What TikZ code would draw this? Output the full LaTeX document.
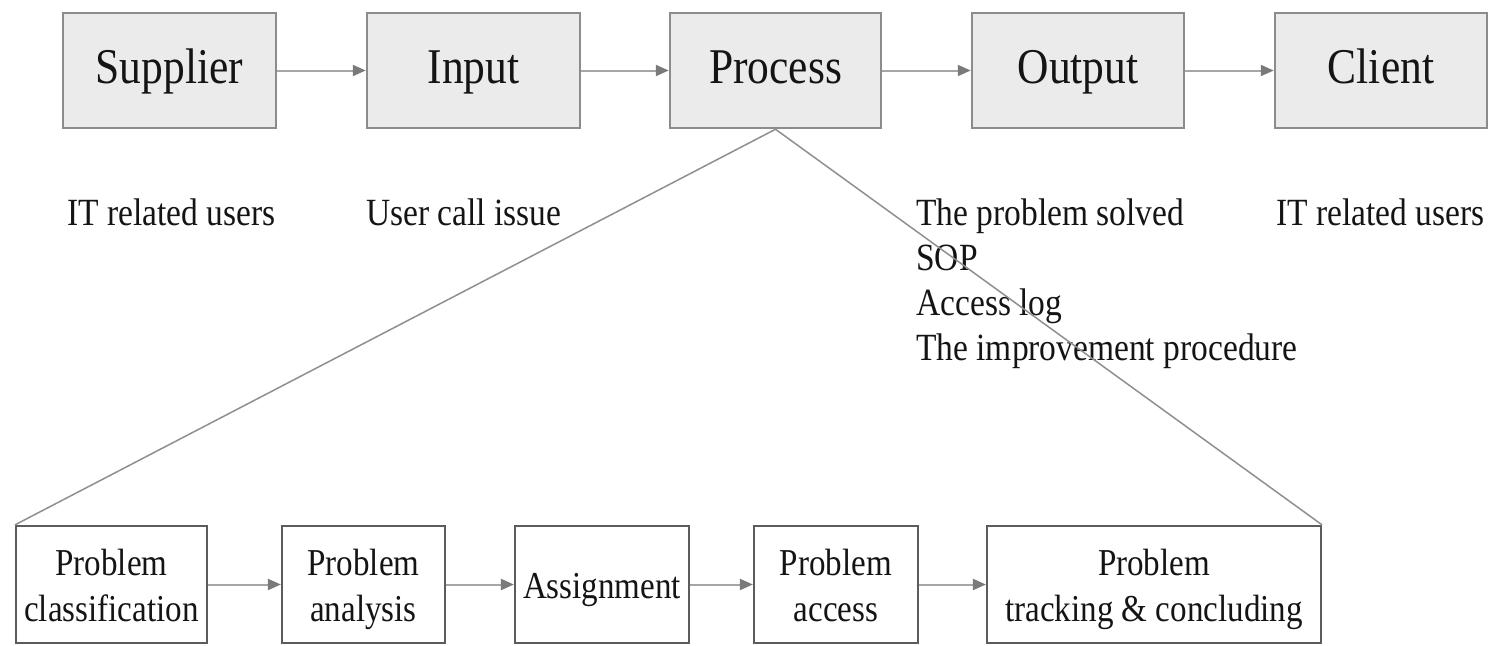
\documentclass[tikz,border=0pt]{standalone}
\usepackage{fontspec}
\setmainfont{Liberation Serif}[FakeStretch=0.87]
\usetikzlibrary{arrows.meta}
\definecolor{boxfill}{HTML}{EBEBEB}
\definecolor{boxline}{HTML}{8C8C8C}
\definecolor{subline}{HTML}{5C5C5C}
\definecolor{arrowc}{HTML}{A6A6A6}
\definecolor{tipc}{HTML}{7A7A7A}
\definecolor{diagc}{HTML}{8F8F8F}
\definecolor{inkc}{HTML}{141414}
% invisible strut that fixes line height and depth in the step boxes
\newcommand{\stepstrut}{\rule[-8.3pt]{0pt}{44.3pt}}
\begin{document}
\begin{tikzpicture}[x=1pt,y=-1pt,
  topbox/.style={draw=boxline, line width=2.5pt, fill=boxfill, inner sep=0pt,
    minimum height=115pt, text height=35pt, text depth=10pt, text=inkc,
    font=\fontsize{50}{60}\selectfont},
  subbox/.style={draw=subline, line width=2.2pt, fill=white, inner sep=0pt,
    minimum height=117pt, align=center, text=inkc,
    font=\fontsize{38}{46.7}\selectfont},
  lab/.style={inner sep=0pt, text=inkc, align=left,
    font=\fontsize{38.5}{45}\selectfont},
  flow/.style={draw=arrowc, line width=2pt,
    -{Triangle[length=13pt,width=11pt,color=tipc]}},
  fan/.style={draw=diagc, line width=1.5pt}
]
\useasboundingbox (0,0) rectangle (1503,645);

% SIPOC chain
\node[topbox, minimum width=213pt] (sup) at (169.5,70.5) {Supplier};
\node[topbox, minimum width=213pt] (inp) at (473.5,70.5) {Input};
\node[topbox, minimum width=211pt] (pro) at (775.5,70.5) {Process};
\node[topbox, minimum width=212pt] (out) at (1078,70.5) {Output};
\node[topbox, minimum width=212pt] (cli) at (1381,70.5) {Client};

\draw[flow] (sup) -- (inp);
\draw[flow] (inp) -- (pro);
\draw[flow] (pro) -- (out);
\draw[flow] (out) -- (cli);

% descriptions under the chain
\node[lab, anchor=base west] (lsup) at (67,225) {IT related users};
\node[lab, anchor=base west] (linp) at (366,225) {User call issue};
\node[lab, anchor=north west] (lout) at (916,198.5)
  {The problem solved\\SOP\\Access log\\The improvement procedure};
\node[lab, anchor=base west] (lcli) at (1276,225) {IT related users};

% detailed process steps
\node[subbox, minimum width=191pt] (cls) at (111.5,584.5)
  {\stepstrut Problem\\classification\stepstrut};
\node[subbox, minimum width=163pt] (ana) at (363.5,584.5)
  {\stepstrut Problem\\analysis\stepstrut};
\node[subbox, minimum width=174pt] (asg) at (602,584.5)
  {\stepstrut Assignment};
\node[subbox, minimum width=164pt] (acc) at (836,584.5)
  {\stepstrut Problem\\access\stepstrut};
\node[subbox, minimum width=334pt] (trk) at (1154,584.5)
  {\stepstrut Problem\\tracking \& concluding\stepstrut};

\draw[flow] (cls) -- (ana);
\draw[flow] (ana) -- (asg);
\draw[flow] (asg) -- (acc);
\draw[flow] (acc) -- (trk);

% expansion of the process box
\draw[fan] (pro.south) -- (cls.north west);
\draw[fan] (pro.south) -- (trk.north east);
\end{tikzpicture}
\end{document}
